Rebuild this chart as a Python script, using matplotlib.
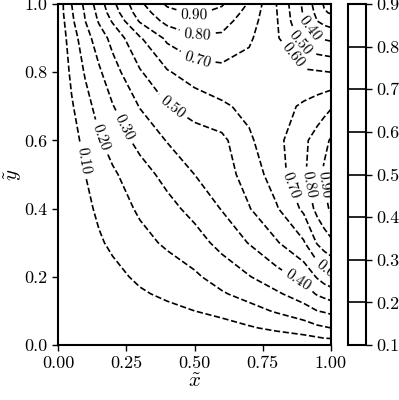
import numpy as np
import matplotlib
matplotlib.use("Agg")
import matplotlib.pyplot as plt

plt.rcParams.update({
    "font.family": "serif",
    "font.serif": ["cmr10"],
    "mathtext.fontset": "cm",
    "axes.formatter.use_mathtext": True,
    "font.size": 13,
})

# grid nodes (normalised x and y)
x_nodes = [0.0, 0.02, 0.05, 0.1, 0.15, 0.2, 0.3, 0.4, 0.5, 0.6, 0.7, 0.8, 0.9, 0.95, 0.975, 1.0]
y_nodes = [0.0, 0.02, 0.05, 0.1, 0.15, 0.2, 0.3, 0.4, 0.5, 0.6, 0.7, 0.8, 0.9, 0.95, 0.975, 1.0]

# field values, one row per y node
z_rows = [
    [0, 0, 0, 0, 0, 0, 0, 0, 0, 0, 0, 0, 0, 0, 0, 0],
    [0, 0.001, 0.002, 0.004, 0.006, 0.008, 0.012, 0.016, 0.02, 0.03, 0.04, 0.055, 0.075, 0.09, 0.10, 0.105],
    [0, 0.002, 0.005, 0.01, 0.015, 0.02, 0.03, 0.04, 0.05, 0.065, 0.09, 0.12, 0.15, 0.18, 0.19, 0.20],
    [0, 0.004, 0.01, 0.02, 0.03, 0.04, 0.06, 0.08, 0.10, 0.125, 0.165, 0.21, 0.26, 0.30, 0.31, 0.325],
    [0, 0.006, 0.015, 0.03, 0.045, 0.06, 0.09, 0.115, 0.145, 0.19, 0.235, 0.285, 0.35, 0.41, 0.43, 0.45],
    [0, 0.008, 0.02, 0.04, 0.06, 0.077, 0.115, 0.15, 0.185, 0.24, 0.295, 0.36, 0.43, 0.51, 0.55, 0.575],
    [0, 0.012, 0.03, 0.06, 0.09, 0.115, 0.17, 0.215, 0.26, 0.33, 0.405, 0.49, 0.59, 0.71, 0.75, 0.78],
    [0, 0.016, 0.04, 0.08, 0.115, 0.15, 0.215, 0.27, 0.33, 0.405, 0.495, 0.59, 0.72, 0.83, 0.87, 0.915],
    [0, 0.02, 0.05, 0.10, 0.145, 0.185, 0.26, 0.33, 0.40, 0.455, 0.54, 0.65, 0.785, 0.87, 0.915, 0.96],
    [0, 0.03, 0.065, 0.125, 0.19, 0.24, 0.33, 0.405, 0.455, 0.475, 0.585, 0.67, 0.78, 0.84, 0.875, 0.91],
    [0, 0.04, 0.09, 0.165, 0.235, 0.295, 0.405, 0.495, 0.54, 0.585, 0.625, 0.66, 0.715, 0.745, 0.765, 0.79],
    [0, 0.055, 0.12, 0.21, 0.285, 0.36, 0.49, 0.59, 0.65, 0.67, 0.66, 0.645, 0.615, 0.61, 0.605, 0.60],
    [0, 0.075, 0.15, 0.26, 0.35, 0.43, 0.59, 0.72, 0.785, 0.78, 0.715, 0.615, 0.46, 0.40, 0.39, 0.38],
    [0, 0.09, 0.18, 0.30, 0.41, 0.51, 0.71, 0.83, 0.87, 0.84, 0.745, 0.61, 0.40, 0.30, 0.27, 0.25],
    [0, 0.10, 0.19, 0.31, 0.43, 0.55, 0.75, 0.87, 0.915, 0.875, 0.765, 0.605, 0.39, 0.27, 0.21, 0.19],
    [0, 0.105, 0.20, 0.325, 0.45, 0.575, 0.78, 0.915, 0.96, 0.91, 0.79, 0.60, 0.38, 0.25, 0.19, 0.13],
]

levels = [0.1, 0.2, 0.3, 0.4, 0.5, 0.6, 0.7, 0.8, 0.9]
x_ticks = [0.0, 0.25, 0.5, 0.75, 1.0]
x_tick_labels = ["0.00", "0.25", "0.50", "0.75", "1.00"]
y_ticks = [0.0, 0.2, 0.4, 0.6, 0.8, 1.0]
y_tick_labels = ["0.0", "0.2", "0.4", "0.6", "0.8", "1.0"]
cb_tick_labels = ["0.1", "0.2", "0.3", "0.4", "0.5", "0.6", "0.7", "0.8", "0.9"]

# where the inline labels sit
label_spots = [
    (0.09, 0.54), (0.16, 0.61), (0.245, 0.64), (0.42, 0.70),
    (0.51, 0.84), (0.51, 0.91), (0.50, 0.97),
    (0.84, 0.835), (0.886, 0.886), (0.935, 0.935),
    (0.86, 0.47), (0.92, 0.47), (0.97, 0.47),
    (0.875, 0.185), (0.99, 0.215),
]

fig = plt.figure(figsize=(3.99, 4.0), dpi=100)
ax = fig.add_axes([58 / 399, 55 / 400, 273 / 399, 341 / 400])
cax = fig.add_axes([348 / 399, 55 / 400, 18 / 399, 341 / 400])

cs = ax.contour(x_nodes, y_nodes, np.array(z_rows), levels=levels,
                colors="k", linestyles="dashed", linewidths=1.2)
labels = ax.clabel(cs, fmt="%.2f", fontsize=11, manual=label_spots, inline=True)
for t in labels:
    t.set_clip_on(True)

ax.set_xlim(0, 1)
ax.set_ylim(0, 1)
ax.set_xticks(x_ticks)
ax.set_xticklabels(x_tick_labels)
ax.set_yticks(y_ticks)
ax.set_yticklabels(y_tick_labels)
ax.set_xlabel(r"$\tilde{x}$", fontsize=15, labelpad=2)
ax.set_ylabel(r"$\tilde{y}$", fontsize=15)
ax.yaxis.set_label_coords(-0.125, 0.5)
ax.tick_params(direction="out", length=4, width=1.0)
for s in ax.spines.values():
    s.set_linewidth(1.5)

cb = fig.colorbar(cs, cax=cax)
cb.set_ticks(levels)
cb.set_ticklabels(cb_tick_labels)
cb.outline.set_linewidth(1.5)
cax.tick_params(direction="out", length=4, width=1.0)

fig.savefig("out.png", dpi=100)
